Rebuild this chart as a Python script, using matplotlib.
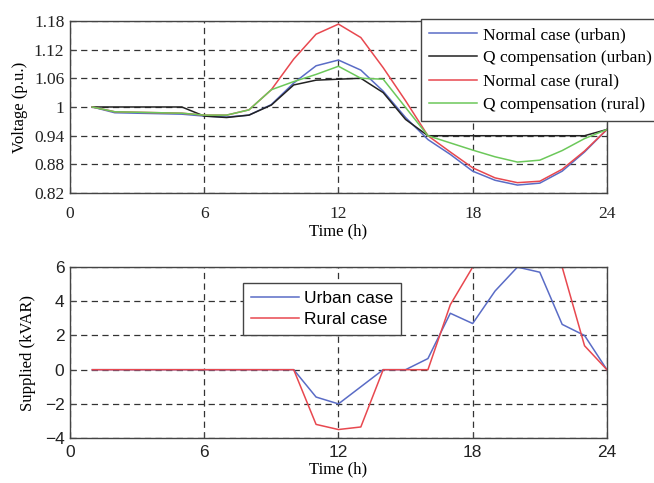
import matplotlib
matplotlib.use("Agg")
import matplotlib.pyplot as plt

hours = list(range(1, 25))

normal_urban = [1.0, 0.988, 0.987, 0.986, 0.985, 0.981, 0.979, 0.983, 1.005, 1.05,
                1.086, 1.098, 1.077, 1.033, 0.978, 0.932, 0.901, 0.866, 0.847, 0.837,
                0.841, 0.866, 0.906, 0.953]
q_urban = [1.0, 1.0, 1.0, 1.0, 1.0, 0.981, 0.978, 0.983, 1.004, 1.046,
           1.056, 1.058, 1.06, 1.03, 0.974, 0.94, 0.94, 0.94, 0.94, 0.94,
           0.94, 0.94, 0.94, 0.953]
normal_rural = [1.0, 0.99, 0.989, 0.988, 0.987, 0.983, 0.983, 0.994, 1.036, 1.10,
                1.152, 1.173, 1.145, 1.082, 1.013, 0.94, 0.906, 0.873, 0.852, 0.842,
                0.845, 0.87, 0.908, 0.953]
q_rural = [1.0, 0.99, 0.989, 0.988, 0.987, 0.983, 0.983, 0.994, 1.036, 1.053,
           1.068, 1.085, 1.06, 1.058, 0.999, 0.94, 0.925, 0.91, 0.896, 0.885,
           0.889, 0.909, 0.934, 0.953]

supplied_urban = [0, 0, 0, 0, 0, 0, 0, 0, 0, 0,
                  -1.6, -2.0, -1.0, 0, 0, 0.65, 3.3, 2.7, 4.6, 6.0,
                  5.7, 2.65, 2.0, 0]
supplied_rural = [0, 0, 0, 0, 0, 0, 0, 0, 0, 0,
                  -3.2, -3.5, -3.35, 0, 0, 0, 3.8, 6, 6, 6,
                  6, 6, 1.4, 0]

volt_ticks = [0.82, 0.88, 0.94, 1.0, 1.06, 1.12, 1.18]
volt_labels = ["0.82", "0.88", "0.94", "1", "1.06", "1.12", "1.18"]
time_ticks = [0, 6, 12, 18, 24]
sup_ticks = [-4, -2, 0, 2, 4, 6]
sup_labels = ["\u22124", "\u22122", "0", "2", "4", "6"]

BLUE = "#5a6cc6"
BLACK = "#222222"
RED = "#e8484f"
GREEN = "#6cc85a"
SERIF = "Liberation Serif"
SANS = "Liberation Sans"

fig = plt.figure(figsize=(6.54, 4.83), dpi=100)
ax1 = fig.add_axes([0.107, 0.600, 0.821, 0.357])
ax2 = fig.add_axes([0.107, 0.093, 0.821, 0.354])

grid_kw = dict(color="#333333", linestyle=(0, (5, 3.5)), linewidth=0.9)

# Top plot
ax1.plot(hours, normal_urban, color=BLUE, lw=1.1, label="Normal case (urban)")
ax1.plot(hours, q_urban, color=BLACK, lw=1.1, label="Q compensation (urban)")
ax1.plot(hours, normal_rural, color=RED, lw=1.1, label="Normal case (rural)")
ax1.plot(hours, q_rural, color=GREEN, lw=1.1, label="Q compensation (rural)")
ax1.set_xlim(0, 24)
ax1.set_ylim(0.82, 1.18)
ax1.set_xticks(time_ticks)
ax1.set_yticks(volt_ticks)
ax1.set_yticklabels(volt_labels)
ax1.grid(True, **grid_kw)
ax1.set_axisbelow(True)
for lab in ax1.get_xticklabels() + ax1.get_yticklabels():
    lab.set_fontfamily(SERIF)
    lab.set_fontsize(12.5)
ax1.set_xlabel("Time (h)", fontfamily=SERIF, fontsize=12, labelpad=1)
ax1.set_ylabel("Voltage (p.u.)", fontfamily=SERIF, fontsize=12, labelpad=4)
leg1 = ax1.legend(loc="upper left", bbox_to_anchor=(421 / 654, 1 - 19 / 483),
                  bbox_transform=fig.transFigure, prop={"family": SERIF, "size": 12.5},
                  frameon=True, fancybox=False, framealpha=1, edgecolor="#444444",
                  handlelength=2.8, handletextpad=0.3, labelspacing=0.42,
                  borderaxespad=0, borderpad=0.45)
leg1.get_frame().set_linewidth(1.0)

# Bottom plot
ax2.plot(hours, supplied_urban, color=BLUE, lw=1.1, label="Urban case")
ax2.plot(hours, supplied_rural, color=RED, lw=1.1, label="Rural case")
ax2.set_xlim(0, 24)
ax2.set_ylim(-4, 6)
ax2.set_xticks(time_ticks)
ax2.set_yticks(sup_ticks)
ax2.set_yticklabels(sup_labels)
ax2.grid(True, **grid_kw)
ax2.set_axisbelow(True)
for lab in ax2.get_xticklabels() + ax2.get_yticklabels():
    lab.set_fontfamily(SANS)
    lab.set_fontsize(12.5)
ax2.set_xlabel("Time (h)", fontfamily=SERIF, fontsize=12, labelpad=1)
ax2.set_ylabel("Supplied (kVAR)", fontfamily=SERIF, fontsize=12, labelpad=6)
leg2 = ax2.legend(loc="upper left", bbox_to_anchor=(243 / 654, 1 - 283 / 483),
                  bbox_transform=fig.transFigure, prop={"family": SANS, "size": 12.5},
                  frameon=True, fancybox=False, framealpha=1, edgecolor="#444444",
                  handlelength=2.8, handletextpad=0.25, labelspacing=0.35,
                  borderaxespad=0, borderpad=0.45)
leg2.get_frame().set_linewidth(1.0)

for ax, pad in ((ax1, 4), (ax2, 4)):
    for sp in ax.spines.values():
        sp.set_color("#444444")
        sp.set_linewidth(1.0)
    ax.tick_params(direction="in", length=4, width=0.8, colors="#444444",
                   labelcolor="#222222", pad=pad)
ax1.tick_params(axis="x", pad=9)
ax2.tick_params(axis="x", pad=5)

fig.savefig("out.png", dpi=100)
